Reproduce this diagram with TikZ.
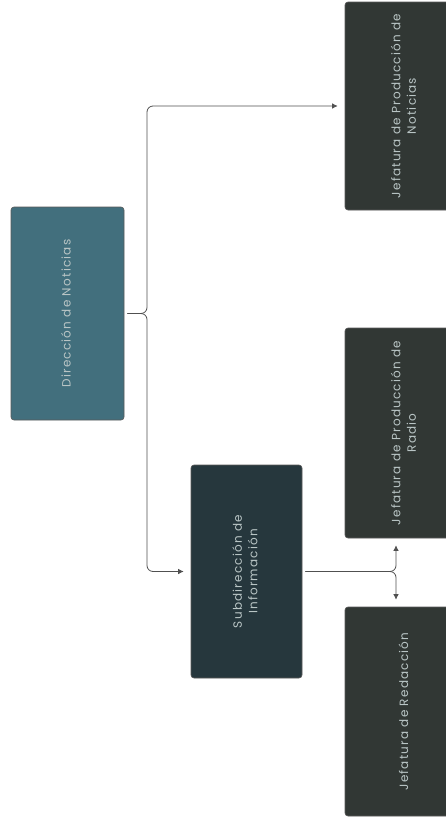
\documentclass[tikz,border=0pt]{standalone}
\usepackage{fontspec}
\setmainfont{Poppins}[LetterSpace=10]
\usetikzlibrary{arrows.meta, positioning}
\definecolor{tealbox}{RGB}{66, 111, 125}
\definecolor{slatebox}{RGB}{38, 55, 61}
\definecolor{darkbox}{RGB}{49, 55, 52}
\definecolor{boxtext}{RGB}{185, 197, 197}
\definecolor{linegray}{RGB}{80, 80, 80}
\newcommand{\vtext}[1]{\rotatebox{90}{\begin{tabular}{@{}c@{}}#1\end{tabular}}}

\begin{document}
\begin{tikzpicture}[x=1pt, y=-1pt]
  \clip (0,0) rectangle (446,825);
  \fill[white] (0,0) rectangle (446,825);
  \tikzset{
    orgbox/.style={draw=black!65, line width=0.6pt, rounded corners=3pt,
      text=boxtext, inner sep=0pt, font=\fontsize{12}{15.5}\selectfont},
    link/.style={linegray, line width=0.8pt, rounded corners=6pt,
      -{Latex[length=5.5pt, width=5.5pt]}, shorten <=3pt, shorten >=7pt}
  }

  % Dirección
  \node[orgbox, fill=tealbox, minimum width=113pt, minimum height=213pt]
    (direccion) at (67.5,313.5) {\vtext{Dirección de Noticias}};

  % Subdirección
  \node[orgbox, fill=slatebox, minimum width=111pt, minimum height=213pt]
    (subdir) at (246.5,571.5) {\vtext{Subdirección de\\Información}};

  % Jefaturas
  \node[orgbox, fill=darkbox, minimum width=120pt, minimum height=208pt]
    (noticias) at (405,106) {\vtext{Jefatura de Producción de\\Noticias}};
  \node[orgbox, fill=darkbox, minimum width=120pt, minimum height=210pt]
    (radio) at (405,433) {\vtext{Jefatura de Producción de\\Radio}};
  \node[orgbox, fill=darkbox, minimum width=120pt, minimum height=209pt]
    (redaccion) at (405,711.5) {\vtext{Jefatura de Redacción}};

  % conectores
  \coordinate (split) at (147,313.5);
  \coordinate (fork) at (396,571.5);
  \draw[link] (direccion.east) -- (split) |- (noticias.west);
  \draw[link] (direccion.east) -- (split) |- (subdir.west);
  \draw[link] (subdir.east) -| (fork |- radio.south);
  \draw[link] (subdir.east) -| (fork |- redaccion.north);
\end{tikzpicture}
\end{document}
